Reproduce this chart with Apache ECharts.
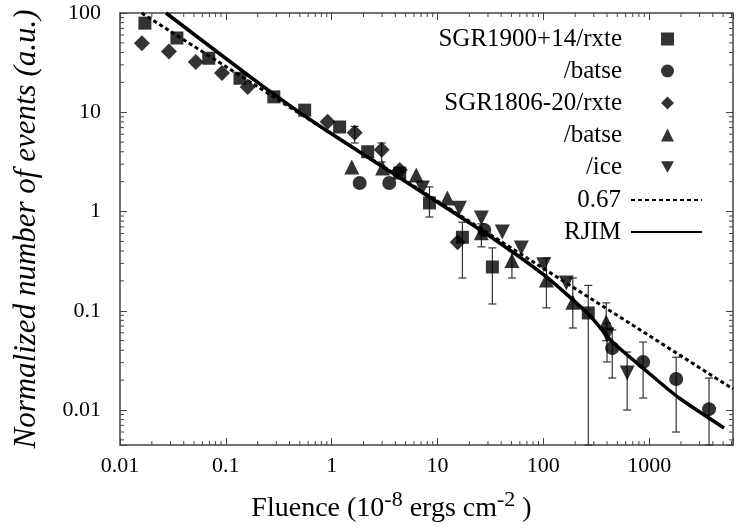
<!DOCTYPE html>
<html><head><meta charset="utf-8">
<script src="https://cdn.jsdelivr.net/npm/echarts@6/dist/echarts.min.js"></script>
<style>html,body{margin:0;padding:0;background:#fff}#c{width:736px;height:532px}</style>
</head><body>
<div id="c"></div>
<script>
// ---- axis ranges & labels ----
const xRange = [0.01, 6200];
const yRange = [0.00444, 100];
const minorMultipliers = [2, 3, 4, 5, 6, 7, 8, 9];
const xDecades = [0.01, 0.1, 1, 10, 100, 1000];
const yDecades = [0.001, 0.01, 0.1, 1, 10];
const xTitle = '{n|Fluence (10}{sup|-8}{n| ergs cm}{sup|-2}{n| )}';
const yTitle = 'Normalized number of events (a.u.)';
const legendLabels = ['SGR1900+14/rxte', '/batse', 'SGR1806-20/rxte', '/batse', '/ice', '0.67', 'RJIM'];

// ---- SGR1900+14 / rxte (squares) ----
const sq1900X = [0.0172, 0.0345, 0.069, 0.136, 0.284, 0.556, 1.19, 2.19, 4.4, 8.4, 17.2, 33, 266];
const sq1900Y = [79, 56, 35, 22, 14.3, 10.5, 7.1, 4.0, 2.44, 1.22, 0.55, 0.276, 0.095];
const sq1900Lo = [null, null, null, null, null, null, null, null, null, 0.88, 0.214, 0.117, 0.00444];
const sq1900Hi = [null, null, null, null, null, null, null, null, null, 1.77, 0.78, 0.43, 0.18];

// ---- SGR1900+14 / batse (circles) ----
const ci1900X = [1.84, 3.5, 27.7, 448, 877, 1800, 3680];
const ci1900Y = [1.94, 1.94, 0.65, 0.042, 0.0305, 0.0205, 0.0102];
const ci1900Lo = [null, null, null, 0.021, 0.0132, 0.006, 0.00444];
const ci1900Hi = [null, null, null, 0.064, 0.0484, 0.034, 0.021];

// ---- SGR1806-20 / rxte (diamonds) ----
const di1806X = [0.0161, 0.029, 0.052, 0.092, 0.161, 0.916, 1.65, 2.97, 4.4, 15.5];
const di1806Y = [49.5, 41, 32, 24.8, 18, 8.0, 6.2, 4.2, 2.62, 0.49];
const di1806Lo = [null, null, null, null, null, null, 4.9, 3.15, null, null];
const di1806Hi = [null, null, null, null, null, null, 7.2, 4.9, null, null];

// ---- SGR1806-20 / batse (triangles) ----
const tr1806X = [1.55, 3.03, 6.3, 12.4, 26, 50.5, 107, 190, 393];
const tr1806Y = [2.8, 2.74, 2.33, 1.37, 0.61, 0.32, 0.204, 0.122, 0.077];
const tr1806Lo = [null, null, null, null, 0.44, 0.214, 0.107, 0.067, 0.05];
const tr1806Hi = [null, null, null, null, 0.75, 0.40, 0.34, 0.214, 0.12];

// ---- SGR1806-20 / ice (inverted triangles) ----
const ic1806X = [7.2, 16.1, 26, 41, 62, 101, 165, 400, 620];
const ic1806Y = [1.72, 1.08, 0.86, 0.62, 0.43, 0.29, 0.19, 0.057, 0.0236];
const ic1806Lo = [null, null, null, null, null, null, null, 0.0305, 0.01];
const ic1806Hi = [null, null, null, null, null, null, null, 0.075, 0.0384];

// ---- model curves ----
const fit067X = [0.016, 6200];
const fit067Y = [100, 0.0163];
const rjimX = [0.0272, 0.209, 0.77, 8.4, 31, 107, 272, 448, 938, 1920, 5100];
const rjimY = [100, 19.3, 7.26, 1.40, 0.566, 0.219, 0.0906, 0.0487, 0.0248, 0.0132, 0.0066];

// ---- build ----
const SERIF = 'Liberation Serif';
const zip = (a, b) => a.map((v, i) => [v, b[i]]);
const errs = [];
function addErr(xs, lo, hi) { xs.forEach((x, i) => { if (lo[i] != null) errs.push([x, lo[i], hi[i]]); }); }
addErr(sq1900X, sq1900Lo, sq1900Hi);
addErr(ci1900X, ci1900Lo, ci1900Hi);
addErr(di1806X, di1806Lo, di1806Hi);
addErr(tr1806X, tr1806Lo, tr1806Hi);
addErr(ic1806X, ic1806Lo, ic1806Hi);

const minorTicks = [];
xDecades.forEach(d => minorMultipliers.forEach(m => { const v = d * m; if (v > xRange[0] && v < xRange[1]) minorTicks.push([v, 1, 0]); }));
yDecades.forEach(d => minorMultipliers.forEach(m => { const v = d * m; if (v > yRange[0] && v < yRange[1]) minorTicks.push([1, v, 1]); }));

const axisCol = '#444';
function fmt(v) {
  const l = Math.log10(v);
  if (Math.abs(l - Math.round(l)) > 1e-6) return '';
  const r = Math.round(l);
  return r >= 0 ? String(Math.pow(10, r)) : Math.pow(10, r).toFixed(-r);
}
function mkX(pos, showLabel) {
  return {
    type: 'log', logBase: 10, min: xRange[0], max: xRange[1], position: pos, gridIndex: 0,
    axisLine: { show: true, onZero: false, lineStyle: { color: axisCol, width: 1.5 } },
    axisTick: { show: true, inside: true, length: 7, lineStyle: { color: axisCol, width: 1 } },
    axisLabel: { show: showLabel, formatter: fmt, margin: 10, fontFamily: SERIF, fontSize: 22, color: '#000' },
    splitLine: { show: false },
    name: showLabel ? xTitle : '', nameLocation: 'middle', nameGap: 44,
    nameTextStyle: { fontFamily: SERIF, color: '#000', padding: [0, 70, 0, 0],
      rich: { n: { fontFamily: SERIF, fontSize: 28, color: '#000', verticalAlign: 'bottom' },
              sup: { fontFamily: SERIF, fontSize: 22, color: '#000', verticalAlign: 'bottom', padding: [0, 0, 12, 0] } } }
  };
}
function mkY(pos, showLabel) {
  return {
    type: 'log', logBase: 10, min: yRange[0], max: yRange[1], position: pos, gridIndex: 0,
    axisLine: { show: true, onZero: false, lineStyle: { color: axisCol, width: 1.5 } },
    axisTick: { show: true, inside: true, length: 7, lineStyle: { color: axisCol, width: 1 } },
    axisLabel: { show: showLabel, formatter: fmt, margin: 19, fontFamily: SERIF, fontSize: 22, color: '#000' },
    splitLine: { show: false },
    name: showLabel ? yTitle : '', nameLocation: 'middle', nameGap: 78,
    nameTextStyle: { fontFamily: SERIF, fontStyle: 'italic', fontSize: 31, color: '#000' }
  };
}

const scatterBase = { type: 'scatter', xAxisIndex: 0, yAxisIndex: 0, itemStyle: { color: '#000' }, z: 4 };
const names = ['s1', 's2', 's3', 's4', 's5', 's6', 's7'];
const legendText = { fontFamily: SERIF, fontSize: 25, color: '#000', width: 210, align: 'right', lineHeight: 26 };
const option = {
  animation: true,
  animationDuration: 300,
  animationDurationUpdate: 0,
  textStyle: { fontFamily: SERIF },
  grid: { left: 120, top: 13, right: 2, bottom: 87, containLabel: false },
  xAxis: [mkX('bottom', true), mkX('top', false)],
  yAxis: [mkY('left', true), mkY('right', false)],
  legend: [{
    orient: 'vertical', right: 57, top: 21, align: 'right',
    itemWidth: 13, itemHeight: 13, itemGap: 6, symbolKeepAspect: true,
    data: names.slice(0, 5),
    formatter: n => legendLabels[names.indexOf(n)],
    textStyle: Object.assign({ padding: [0, 34, 0, 0] }, legendText)
  }, {
    orient: 'vertical', right: 28, top: 182, align: 'right',
    itemWidth: 71, itemHeight: 13, itemGap: 6,
    data: [{ name: 's6', itemStyle: { opacity: 0 } }, { name: 's7', itemStyle: { opacity: 0 } }],
    formatter: n => legendLabels[names.indexOf(n)],
    textStyle: Object.assign({ padding: [0, 5, 0, 0] }, legendText)
  }],
  series: [
    Object.assign({}, scatterBase, { name: 's1', symbol: 'rect', symbolSize: 13, data: zip(sq1900X, sq1900Y) }),
    Object.assign({}, scatterBase, { name: 's2', symbol: 'circle', symbolSize: 14, data: zip(ci1900X, ci1900Y) }),
    Object.assign({}, scatterBase, { name: 's3', symbol: 'diamond', symbolSize: 16, data: zip(di1806X, di1806Y) }),
    Object.assign({}, scatterBase, { name: 's4', symbol: 'triangle', symbolSize: 15, data: zip(tr1806X, tr1806Y) }),
    Object.assign({}, scatterBase, { name: 's5', symbol: 'path://M0,0L10,0L5,9Z', symbolSize: 15, data: zip(ic1806X, ic1806Y) }),
    { name: 's6', type: 'line', symbol: 'none', data: zip(fit067X, fit067Y), lineStyle: { color: '#000', width: 3, type: [4, 3] }, itemStyle: { color: '#000' }, z: 3 },
    { name: 's7', type: 'line', symbol: 'none', smooth: 0.2, data: zip(rjimX, rjimY), lineStyle: { color: '#000', width: 3.5 }, itemStyle: { color: '#000' }, z: 3 },
    { type: 'custom', name: 'err', silent: true, z: 2, data: errs, encode: { x: 0, y: [1, 2] },
      renderItem: (params, api) => {
        const a = api.coord([api.value(0), api.value(1)]);
        const b = api.coord([api.value(0), api.value(2)]);
        const st = { stroke: '#333', lineWidth: 1.2 };
        return { type: 'group', children: [
          { type: 'line', shape: { x1: a[0], y1: a[1], x2: b[0], y2: b[1] }, style: st },
          { type: 'line', shape: { x1: a[0] - 4, y1: a[1], x2: a[0] + 4, y2: a[1] }, style: st },
          { type: 'line', shape: { x1: b[0] - 4, y1: b[1], x2: b[0] + 4, y2: b[1] }, style: st }
        ] };
      } },
    { type: 'custom', name: 'minor', silent: true, z: 2, data: minorTicks, encode: { x: 0, y: 1 },
      renderItem: (params, api) => {
        const cs = params.coordSys;
        const p = api.coord([api.value(0), api.value(1)]);
        const L = 4, st = { stroke: axisCol, lineWidth: 1 };
        if (api.value(2) === 0) {
          return { type: 'group', children: [
            { type: 'line', shape: { x1: p[0], y1: cs.y + cs.height, x2: p[0], y2: cs.y + cs.height - L }, style: st },
            { type: 'line', shape: { x1: p[0], y1: cs.y, x2: p[0], y2: cs.y + L }, style: st } ] };
        }
        return { type: 'group', children: [
          { type: 'line', shape: { x1: cs.x, y1: p[1], x2: cs.x + L, y2: p[1] }, style: st },
          { type: 'line', shape: { x1: cs.x + cs.width, y1: p[1], x2: cs.x + cs.width - L, y2: p[1] }, style: st } ] };
      } }
  ]
};
const chart = echarts.init(document.getElementById('c'));
chart.setOption(option);
</script></body></html>
